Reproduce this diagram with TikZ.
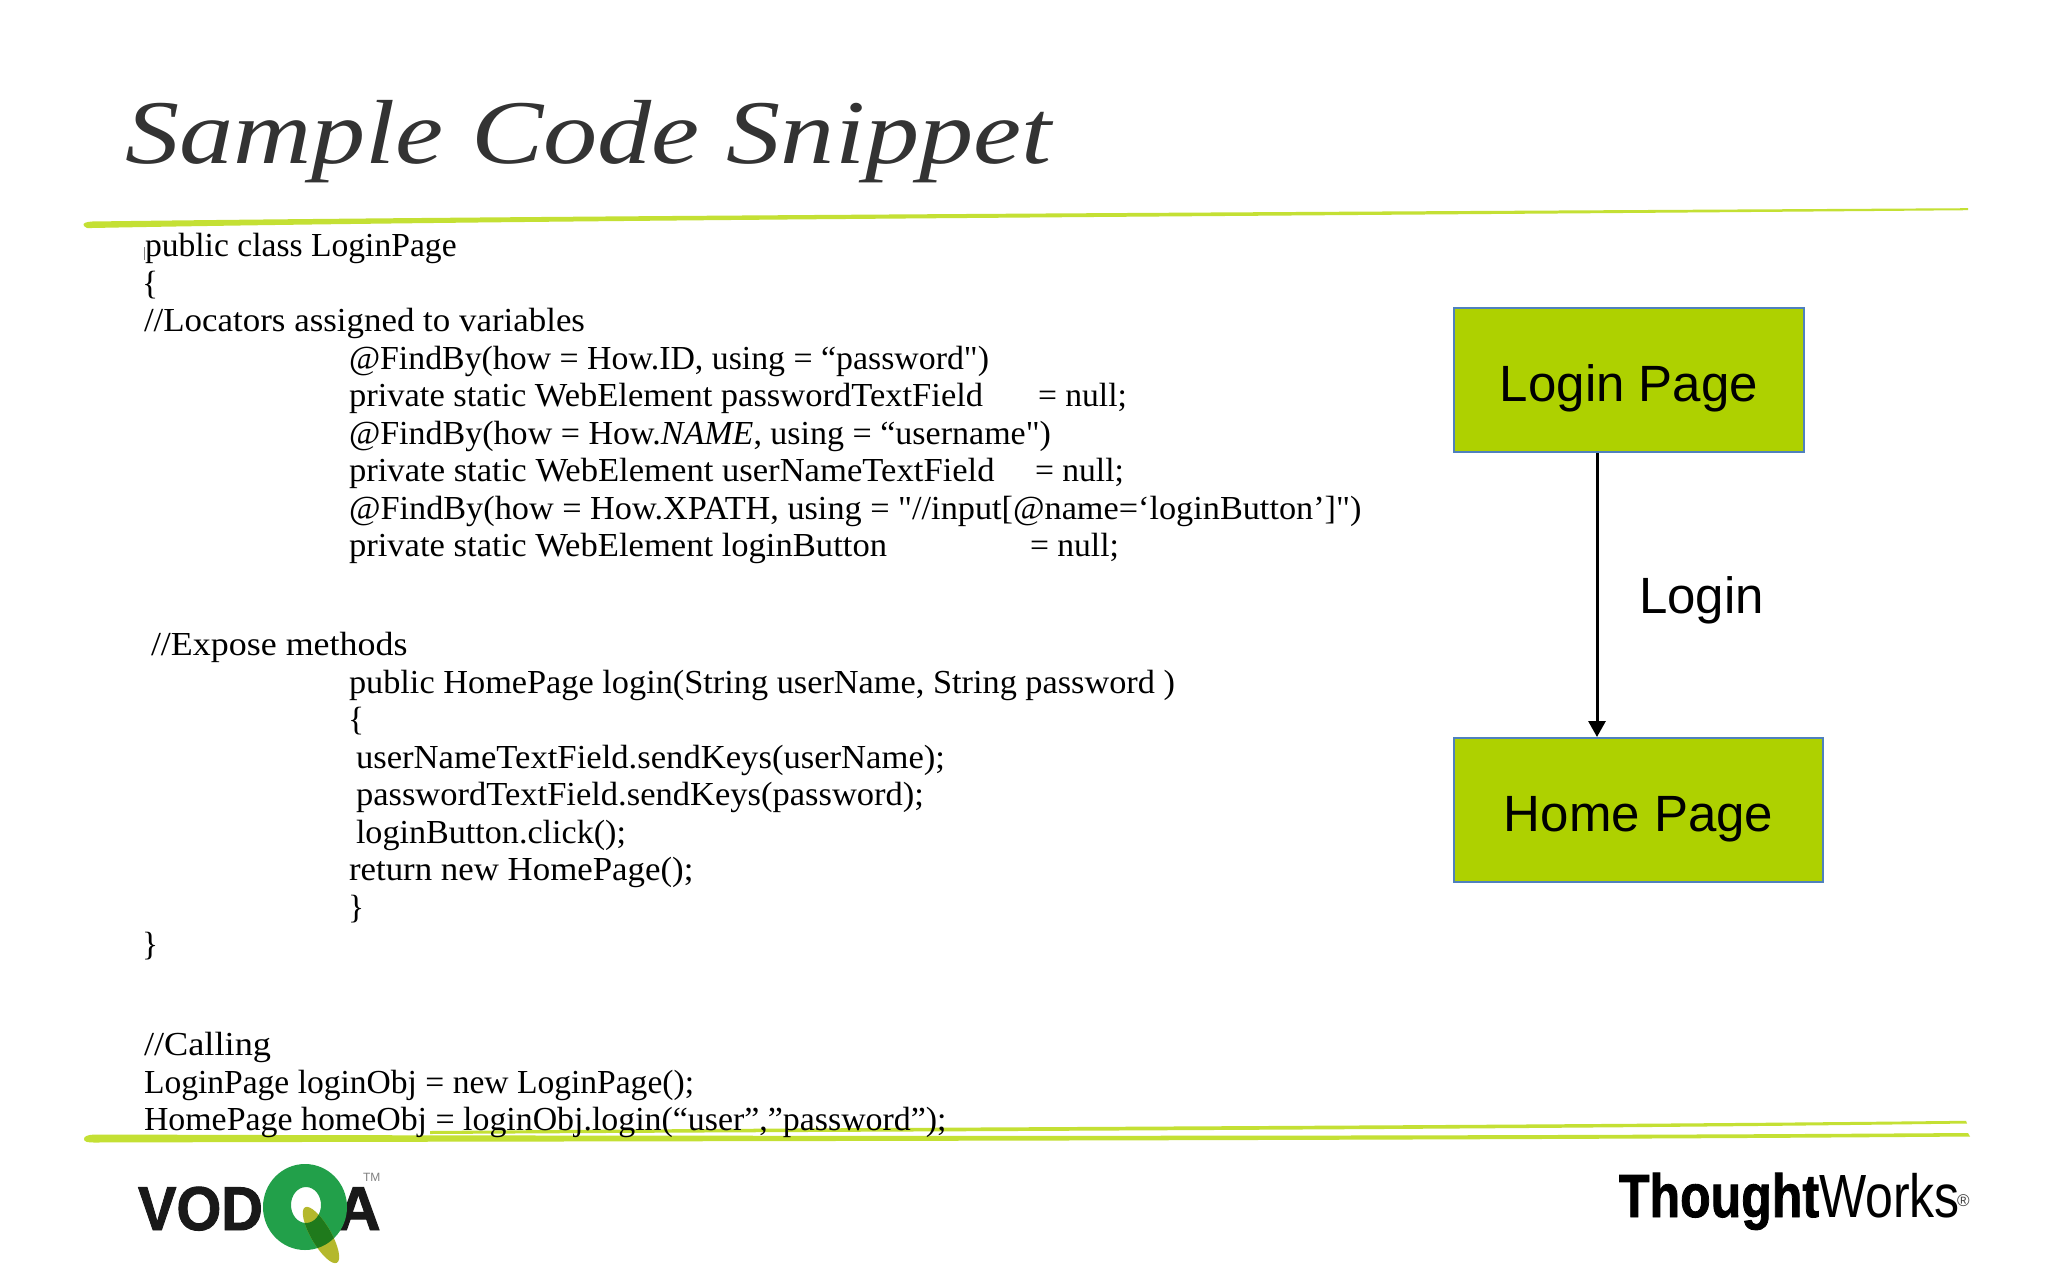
\documentclass[tikz,border=0pt]{standalone}
\usepackage{fontspec}
\usepackage{graphicx}
\usetikzlibrary{calc,arrows.meta}
\setmainfont[Ligatures=TeXOff]{Liberation Serif}
\setsansfont{Liberation Sans}
\newfontfamily\logobold[UprightFont=* Bold,FakeBold=1.5]{Liberation Sans}
\newcommand{\fitw}[2]{\resizebox{#1pt}{\height}{#2}}
\definecolor{swoosh}{HTML}{C4E034}
\definecolor{boxfill}{HTML}{AED100}
\definecolor{boxline}{HTML}{4F81BD}
\definecolor{titleink}{HTML}{333333}
\definecolor{ringgreen}{HTML}{22A04A}
\definecolor{tailolive}{HTML}{B4B82C}
\definecolor{overlapgreen}{HTML}{1F7A1C}
\tikzset{
  code/.style={anchor=base west,inner sep=0pt,outer sep=0pt,font=\fontsize{33.6}{38}\selectfont,text=black},
  pagebox/.style={draw=boxline,line width=2pt,fill=boxfill,anchor=north west,inner sep=0pt,font=\sffamily\fontsize{51}{60}\selectfont,text=black,text height=53pt,text depth=11pt},
  swooshfill/.style={fill=swoosh,draw=none},
  logotext/.style={anchor=base west,inner sep=0pt,outer sep=0pt,text=black},
  flow/.style={draw=black,line width=3pt,-{Triangle[length=16pt,width=17pt]}}
}
\begin{document}
\begin{tikzpicture}[x=1pt,y=-1pt]
\useasboundingbox (0,0) rectangle (2048,1280);
\fill[white] (0,0) rectangle (2048,1280);
% swooshes
\fill[swooshfill] (84,226) .. controls (82,223) and (86,222) .. (92,221.5)
  .. controls (500,216) and (1300,212) .. (1968,208.2) -- (1968,210.2)
  .. controls (1300,216) and (500,220) .. (92,228) .. controls (88,228.5) and (85,228) .. (84,226) -- cycle;
\fill[swooshfill] (430,1131) .. controls (900,1127) and (1500,1126) .. (1966,1120.8) -- (1967,1123.5)
  .. controls (1500,1130) and (900,1131) .. (430,1134) -- cycle;
\fill[swooshfill] (84,1139) .. controls (84,1136) and (88,1135) .. (94,1134.5)
  .. controls (600,1136) and (1400,1137) .. (1968,1133) -- (1970,1136.5)
  .. controls (1400,1141) and (600,1141) .. (94,1142.5) .. controls (88,1142.5) and (84,1142) .. (84,1139) -- cycle;
% title
\node[anchor=base west,inner sep=0pt,text=titleink] (title) at (125,163)
  {\scalebox{1.19}[1]{\fontsize{91}{100}\selectfont\itshape Sample Code Snippet}};
% cursor tick
\draw[gray,line width=0.8pt] (144,247) -- (144,260);
% code
\node[code] (l1) at (145,256) {public class LoginPage};
\node[code] (l2) at (142,294) {\{};
\node[code] (l3) at (144,331) {\fitw{441}{//Locators assigned to variables}};
\node[code] (l4) at (349,369) {\fitw{640}{@FindBy(how = How.ID, using = “password")}};
\node[code] (l5) at (349,406.5) {\fitw{634}{private static WebElement passwordTextField}};
\node[code] (l5b) at (1038,406.5) {= null;};
\node[code] (l6) at (349,444) {\fitw{702}{@FindBy(how = How.\textit{NAME}, using = “username")}};
\node[code] (l7) at (349,481.5) {\fitw{645.5}{private static WebElement userNameTextField}};
\node[code] (l7b) at (1035,481.5) {= null;};
\node[code] (l8) at (349,519) {\fitw{1012.5}{@FindBy(how = How.XPATH, using = "//input[@name=‘loginButton’]")}};
\node[code] (l9) at (349,556.5) {\fitw{538}{private static WebElement loginButton}};
\node[code] (l9b) at (1030,556.5) {= null;};
\node[code] (l10) at (151,655.5) {\fitw{256.5}{//Expose methods}};
\node[code] (l11) at (349,693) {\fitw{826}{public HomePage login(String userName, String password )}};
\node[code] (l12) at (348,730.5) {\{};
\node[code] (l13) at (356,768) {\fitw{589}{userNameTextField.sendKeys(userName);}};
\node[code] (l14) at (356,805.5) {\fitw{568}{passwordTextField.sendKeys(password);}};
\node[code] (l15) at (356,843) {\fitw{270}{loginButton.click();}};
\node[code] (l16) at (349,880.5) {\fitw{344.4}{return new HomePage();}};
\node[code] (l17) at (348,918) {\}};
\node[code] (l18) at (142,955.5) {\}};
\node[code] (l19) at (144,1055) {\fitw{127}{//Calling}};
\node[code] (l20) at (144,1093) {\fitw{550}{LoginPage loginObj = new LoginPage();}};
\node[code] (l21) at (144,1130) {\fitw{802.5}{HomePage homeObj = loginObj.login(“user”,”password”);}};
% diagram
\node[pagebox,minimum width=350pt,minimum height=144pt] (login) at (1453,307) {Login Page};
\node[pagebox,minimum width=369pt,minimum height=144pt] (home) at (1453,737) {Home Page};
\draw[flow] ($(login.south west)+(144,0)$) -- ($(home.north west)+(144,0)$);
\node[anchor=base west,inner sep=0pt,font=\sffamily\fontsize{51}{60}\selectfont,text=black] (loginlabel) at (1639,613) {Login};
% VODQA logo
\node[logotext,text=black!90] (vod) at (138,1230) {\scalebox{0.93}[1]{\logobold\fontsize{62}{70}\selectfont VOD}};
\node[logotext,text=black!90] (a) at (336,1230) {\scalebox{1}[1]{\logobold\fontsize{62}{70}\selectfont A}};
\fill[ringgreen,even odd rule] (305,1207) ellipse [x radius=42,y radius=43] (306,1205) ellipse [x radius=15,y radius=18];
\begin{scope}[rotate around={30:(321,1235)}]
\fill[tailolive] (321,1235) ellipse [x radius=10,y radius=32];
\begin{scope}
\clip (321,1235) ellipse [x radius=10,y radius=32];
\fill[overlapgreen,rotate around={-30:(321,1235)},even odd rule] (305,1207) ellipse [x radius=42,y radius=43] (306,1205) ellipse [x radius=15,y radius=18];
\end{scope}
\end{scope}
\node[logotext,text=gray] (tm) at (363,1181) {\sffamily\fontsize{12}{14}\selectfont TM};
% ThoughtWorks logo
\node[logotext] (tw) at (1619,1217) {\scalebox{0.82}[1]{\sffamily\fontsize{61}{70}\selectfont{\logobold Thought}Works}};
\node[logotext,text=darkgray] (reg) at (1957,1206) {\sffamily\fontsize{17}{18}\selectfont ®};
\end{tikzpicture}
\end{document}
